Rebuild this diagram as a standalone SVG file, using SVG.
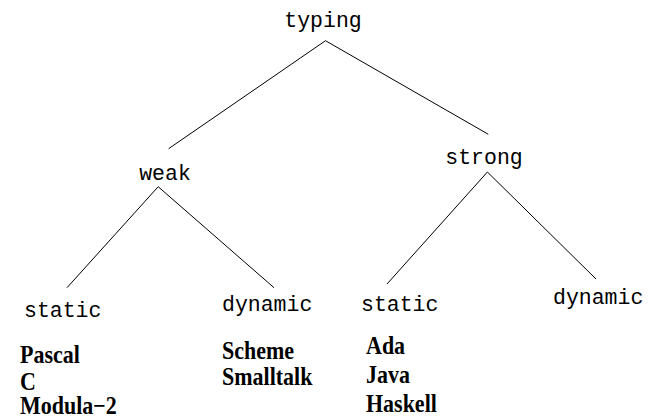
<svg xmlns="http://www.w3.org/2000/svg" width="648" height="418" viewBox="0 0 648 418">
<style>
.m{font-family:"Liberation Mono","Courier New",monospace;font-size:21.5px;fill:#000}
.b{font-family:"Liberation Serif","Times New Roman",serif;font-size:22px;font-weight:bold;fill:#000}
.e{stroke:#000;stroke-width:1;fill:none}
</style>
<rect width="648" height="418" fill="#fff"/>
<g id="connectors">
<line class="e" x1="325.5" y1="40.7" x2="168.6" y2="148.7"/>
<line class="e" x1="325.5" y1="40.7" x2="488.3" y2="134.3"/>
<line class="e" x1="158.2" y1="186.7" x2="67" y2="287.7"/>
<line class="e" x1="158.2" y1="186.7" x2="274" y2="287.7"/>
<line class="e" x1="487.4" y1="172" x2="387" y2="284"/>
<line class="e" x1="487.4" y1="172" x2="596" y2="279"/>
</g>
<g id="typing"><text class="m" x="323" y="27" text-anchor="middle">typing</text></g>
<g id="weak"><text class="m" x="165" y="180" text-anchor="middle">weak</text></g>
<g id="strong"><text class="m" x="484" y="164" text-anchor="middle">strong</text></g>
<g id="weak-static"><text class="m" x="24" y="317">static</text></g>
<g id="weak-dynamic"><text class="m" x="222" y="311">dynamic</text></g>
<g id="strong-static"><text class="m" x="361" y="311">static</text></g>
<g id="strong-dynamic"><text class="m" x="553" y="304">dynamic</text></g>
<g id="weak-static-langs">
<text class="b" transform="translate(20,363) scale(1,1.1)">Pascal</text>
<text class="b" transform="translate(20,390) scale(1,1.1)">C</text>
<text class="b" transform="translate(20,414) scale(1,1.1)">Modula−2</text>
</g>
<g id="weak-dynamic-langs">
<text class="b" transform="translate(222,359) scale(1,1.1)">Scheme</text>
<text class="b" transform="translate(222,385) scale(1,1.1)">Smalltalk</text>
</g>
<g id="strong-static-langs">
<text class="b" transform="translate(366,354) scale(1,1.1)">Ada</text>
<text class="b" transform="translate(366,383) scale(1,1.1)">Java</text>
<text class="b" transform="translate(366,412) scale(1,1.1)">Haskell</text>
</g>
</svg>
